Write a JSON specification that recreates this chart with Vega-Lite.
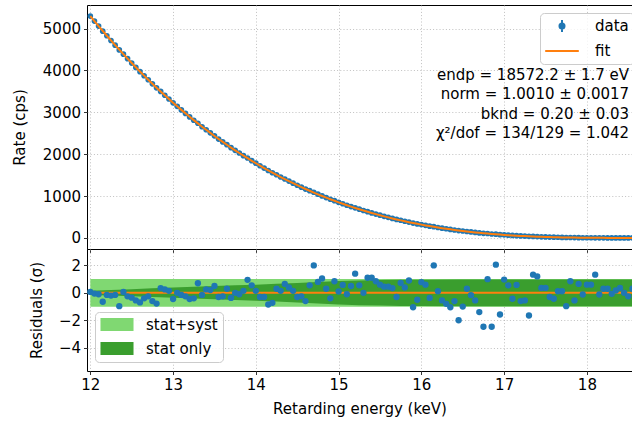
{
 "$schema": "https://vega.github.io/schema/vega-lite/v6.json",
 "padding": {"left": 12, "top": 4, "right": 0, "bottom": 0},
 "background": "white",
 "bounds": "flush",
 "config": {
  "font": "DejaVu Sans",
  "view": {"stroke": "#000", "strokeWidth": 1},
  "axis": {
   "domain": false, "grid": true, "gridColor": "#b0b0b0", "gridDash": [1, 2.2], "gridWidth": 0.8,
   "ticks": true, "tickColor": "#000", "tickSize": 3.5, "tickWidth": 0.8,
   "labelFont": "DejaVu Sans", "labelFontSize": 15, "labelColor": "#000", "labelPadding": 3,
   "titleFont": "DejaVu Sans", "titleFontSize": 15, "titleFontWeight": "normal", "titleColor": "#000"
  },
  "legend": {"labelFont": "DejaVu Sans", "labelFontSize": 15, "labelColor": "#000"}
 },
 "resolve": {"scale": {"color": "independent"}, "legend": {"color": "independent"}},
 "spacing": 0,
 "datasets": {
  "pts": [
   {"E":12.00,"fit":5300,"data":5301,"res":0.07},
   {"E":12.05,"fit":5180,"data":5180,"res":-0.05},
   {"E":12.10,"fit":5062,"data":5061,"res":-0.1},
   {"E":12.15,"fit":4945,"data":4940,"res":-0.65},
   {"E":12.20,"fit":4831,"data":4830,"res":-0.15},
   {"E":12.25,"fit":4718,"data":4716,"res":-0.2},
   {"E":12.30,"fit":4607,"data":4606,"res":-0.15},
   {"E":12.35,"fit":4498,"data":4491,"res":-0.97},
   {"E":12.40,"fit":4390,"data":4391,"res":0.07},
   {"E":12.45,"fit":4284,"data":4282,"res":-0.25},
   {"E":12.50,"fit":4180,"data":4177,"res":-0.35},
   {"E":12.55,"fit":4078,"data":4074,"res":-0.55},
   {"E":12.60,"fit":3977,"data":3972,"res":-0.7},
   {"E":12.65,"fit":3878,"data":3875,"res":-0.4},
   {"E":12.70,"fit":3780,"data":3778,"res":-0.25},
   {"E":12.75,"fit":3685,"data":3681,"res":-0.6},
   {"E":12.80,"fit":3590,"data":3585,"res":-0.78},
   {"E":12.85,"fit":3498,"data":3500,"res":0.35},
   {"E":12.90,"fit":3407,"data":3409,"res":0.25},
   {"E":12.95,"fit":3318,"data":3319,"res":0.15},
   {"E":13.00,"fit":3230,"data":3227,"res":-0.45},
   {"E":13.05,"fit":3144,"data":3144,"res":0.0},
   {"E":13.10,"fit":3059,"data":3058,"res":-0.15},
   {"E":13.15,"fit":2976,"data":2974,"res":-0.25},
   {"E":13.20,"fit":2894,"data":2891,"res":-0.45},
   {"E":13.25,"fit":2814,"data":2811,"res":-0.4},
   {"E":13.30,"fit":2736,"data":2740,"res":0.7},
   {"E":13.35,"fit":2658,"data":2657,"res":-0.15},
   {"E":13.40,"fit":2583,"data":2584,"res":0.25},
   {"E":13.45,"fit":2509,"data":2510,"res":0.2},
   {"E":13.50,"fit":2436,"data":2439,"res":0.5},
   {"E":13.55,"fit":2364,"data":2362,"res":-0.3},
   {"E":13.60,"fit":2294,"data":2293,"res":-0.25},
   {"E":13.65,"fit":2226,"data":2228,"res":0.3},
   {"E":13.70,"fit":2159,"data":2157,"res":-0.37},
   {"E":13.75,"fit":2093,"data":2093,"res":0.0},
   {"E":13.80,"fit":2028,"data":2028,"res":-0.1},
   {"E":13.85,"fit":1965,"data":1966,"res":0.15},
   {"E":13.90,"fit":1904,"data":1909,"res":0.95},
   {"E":13.95,"fit":1843,"data":1846,"res":0.55},
   {"E":14.00,"fit":1784,"data":1785,"res":0.15},
   {"E":14.05,"fit":1726,"data":1725,"res":-0.3},
   {"E":14.10,"fit":1669,"data":1668,"res":-0.3},
   {"E":14.15,"fit":1614,"data":1610,"res":-0.85},
   {"E":14.20,"fit":1560,"data":1557,"res":-0.73},
   {"E":14.25,"fit":1507,"data":1508,"res":0.3},
   {"E":14.30,"fit":1455,"data":1456,"res":0.15},
   {"E":14.35,"fit":1405,"data":1407,"res":0.65},
   {"E":14.40,"fit":1355,"data":1357,"res":0.4},
   {"E":14.45,"fit":1307,"data":1308,"res":0.15},
   {"E":14.50,"fit":1260,"data":1259,"res":-0.3},
   {"E":14.55,"fit":1214,"data":1213,"res":-0.25},
   {"E":14.60,"fit":1169,"data":1167,"res":-0.6},
   {"E":14.65,"fit":1126,"data":1128,"res":0.55},
   {"E":14.70,"fit":1083,"data":1090,"res":2.0},
   {"E":14.75,"fit":1042,"data":1045,"res":0.8},
   {"E":14.80,"fit":1001,"data":1004,"res":1.05},
   {"E":14.85,"fit":962,"data":963,"res":0.3},
   {"E":14.90,"fit":924,"data":923,"res":-0.4},
   {"E":14.95,"fit":887,"data":890,"res":0.85},
   {"E":15.00,"fit":850,"data":850,"res":0.1},
   {"E":15.05,"fit":815,"data":817,"res":0.58},
   {"E":15.10,"fit":781,"data":781,"res":-0.1},
   {"E":15.15,"fit":748,"data":749,"res":0.5},
   {"E":15.20,"fit":715,"data":719,"res":1.4},
   {"E":15.25,"fit":684,"data":686,"res":0.55},
   {"E":15.30,"fit":654,"data":654,"res":0.0},
   {"E":15.35,"fit":624,"data":627,"res":1.1},
   {"E":15.40,"fit":595,"data":598,"res":1.1},
   {"E":15.45,"fit":568,"data":570,"res":0.85},
   {"E":15.50,"fit":541,"data":543,"res":0.6},
   {"E":15.55,"fit":515,"data":516,"res":0.45},
   {"E":15.60,"fit":490,"data":491,"res":0.45},
   {"E":15.65,"fit":465,"data":466,"res":0.35},
   {"E":15.70,"fit":442,"data":441,"res":-0.3},
   {"E":15.75,"fit":419,"data":421,"res":0.72},
   {"E":15.80,"fit":397,"data":398,"res":0.4},
   {"E":15.85,"fit":376,"data":378,"res":0.9},
   {"E":15.90,"fit":356,"data":354,"res":-1.05},
   {"E":15.95,"fit":336,"data":335,"res":-0.5},
   {"E":16.00,"fit":317,"data":319,"res":0.78},
   {"E":16.05,"fit":299,"data":300,"res":0.6},
   {"E":16.10,"fit":282,"data":281,"res":-0.37},
   {"E":16.15,"fit":265,"data":269,"res":2.0},
   {"E":16.20,"fit":249,"data":249,"res":0.12},
   {"E":16.25,"fit":233,"data":232,"res":-0.55},
   {"E":16.30,"fit":219,"data":218,"res":-0.8},
   {"E":16.35,"fit":205,"data":203,"res":-1.05},
   {"E":16.40,"fit":191,"data":190,"res":-0.6},
   {"E":16.45,"fit":178,"data":175,"res":-2.0},
   {"E":16.50,"fit":166,"data":165,"res":-1.0},
   {"E":16.55,"fit":154,"data":154,"res":0.3},
   {"E":16.60,"fit":143,"data":143,"res":-0.17},
   {"E":16.65,"fit":132,"data":131,"res":-0.55},
   {"E":16.70,"fit":122,"data":120,"res":-1.4},
   {"E":16.75,"fit":113,"data":110,"res":-2.47},
   {"E":16.80,"fit":104,"data":105,"res":1.0},
   {"E":16.85,"fit":95,"data":93,"res":-2.47},
   {"E":16.90,"fit":87,"data":89,"res":2.06},
   {"E":16.95,"fit":79,"data":78,"res":-1.58},
   {"E":17.00,"fit":72,"data":73,"res":0.97},
   {"E":17.05,"fit":66,"data":66,"res":0.55},
   {"E":17.10,"fit":59,"data":59,"res":-0.43},
   {"E":17.15,"fit":54,"data":54,"res":0.58},
   {"E":17.20,"fit":48,"data":48,"res":-0.6},
   {"E":17.25,"fit":43,"data":43,"res":-0.55},
   {"E":17.30,"fit":38,"data":37,"res":-1.65},
   {"E":17.35,"fit":34,"data":35,"res":1.33},
   {"E":17.40,"fit":30,"data":31,"res":1.2},
   {"E":17.45,"fit":26,"data":26,"res":0.36},
   {"E":17.50,"fit":23,"data":23,"res":0.36},
   {"E":17.55,"fit":20,"data":20,"res":-0.3},
   {"E":17.60,"fit":17,"data":17,"res":-0.43},
   {"E":17.65,"fit":15,"data":15,"res":0.12},
   {"E":17.70,"fit":12,"data":12,"res":0.12},
   {"E":17.75,"fit":10,"data":10,"res":-0.97},
   {"E":17.80,"fit":8.7,"data":9,"res":0.85},
   {"E":17.85,"fit":7.2,"data":7,"res":-0.55},
   {"E":17.90,"fit":5.8,"data":6,"res":0.65},
   {"E":17.95,"fit":4.7,"data":4.7,"res":-0.12},
   {"E":18.00,"fit":3.7,"data":3.9,"res":0.6},
   {"E":18.05,"fit":2.8,"data":2.9,"res":0.6},
   {"E":18.10,"fit":2.1,"data":2.4,"res":1.33},
   {"E":18.15,"fit":1.6,"data":1.6,"res":-0.12},
   {"E":18.20,"fit":1.1,"data":1.2,"res":0.3},
   {"E":18.25,"fit":0.8,"data":0.8,"res":0.3},
   {"E":18.30,"fit":0.6,"data":0.6,"res":-0.07},
   {"E":18.35,"fit":0.4,"data":0.4,"res":0.17},
   {"E":18.40,"fit":0.3,"data":0.3,"res":0.36},
   {"E":18.45,"fit":0.2,"data":0.2,"res":0.0},
   {"E":18.50,"fit":0.2,"data":0.2,"res":-0.25},
   {"E":18.55,"fit":0.2,"data":0.3,"res":0.3}
  ],
  "band": [
   {"E":12.0,"lo":-1.02,"hi":1.02,"band":"stat+syst"},
   {"E":18.55,"lo":-1.02,"hi":1.02,"band":"stat+syst"},
   {"E":12.0,"lo":-0.15,"hi":0.15,"band":"stat only"},
   {"E":12.25,"lo":-0.2,"hi":0.2,"band":"stat only"},
   {"E":12.5,"lo":-0.25,"hi":0.27,"band":"stat only"},
   {"E":12.75,"lo":-0.3,"hi":0.33,"band":"stat only"},
   {"E":13.0,"lo":-0.36,"hi":0.4,"band":"stat only"},
   {"E":13.25,"lo":-0.42,"hi":0.45,"band":"stat only"},
   {"E":13.5,"lo":-0.47,"hi":0.5,"band":"stat only"},
   {"E":13.75,"lo":-0.52,"hi":0.55,"band":"stat only"},
   {"E":14.0,"lo":-0.58,"hi":0.6,"band":"stat only"},
   {"E":14.25,"lo":-0.63,"hi":0.66,"band":"stat only"},
   {"E":14.5,"lo":-0.7,"hi":0.72,"band":"stat only"},
   {"E":14.75,"lo":-0.78,"hi":0.8,"band":"stat only"},
   {"E":15.0,"lo":-0.85,"hi":0.86,"band":"stat only"},
   {"E":15.25,"lo":-0.9,"hi":0.9,"band":"stat only"},
   {"E":15.5,"lo":-0.93,"hi":0.93,"band":"stat only"},
   {"E":15.75,"lo":-0.95,"hi":0.95,"band":"stat only"},
   {"E":16.0,"lo":-0.96,"hi":0.96,"band":"stat only"},
   {"E":16.5,"lo":-0.97,"hi":0.97,"band":"stat only"},
   {"E":17.0,"lo":-0.97,"hi":0.97,"band":"stat only"},
   {"E":18.55,"lo":-0.97,"hi":0.97,"band":"stat only"}
  ]
 },
 "vconcat": [
  {
   "width": 545, "height": 244,
   "layer": [
    {
     "data": {"name": "pts"},
     "mark": {"type": "circle", "size": 32, "opacity": 1},
     "encoding": {
      "x": {"field": "E", "type": "quantitative", "scale": {"domain": [11.96, 18.545], "nice": false, "zero": false}, "axis": {"values": [12,13,14,15,16,17,18], "labels": false, "title": null}},
      "y": {"field": "data", "type": "quantitative", "scale": {"domain": [-265, 5565], "nice": false, "zero": false}, "axis": {"values": [0,1000,2000,3000,4000,5000], "format": "d", "title": "Rate (cps)", "titleX": -62.5, "titleBaseline": "alphabetic"}},
      "color": {"datum": "data", "scale": {"domain": ["data", "fit"], "range": ["#1f77b4", "#ff7f0e"]},
       "legend": {"title": null, "orient": "none", "legendX": 453, "legendY": 8, "symbolSize": 196, "symbolOffset": 9, "labelOffset": 25, "rowPadding": 6, "padding": 5,
        "fillColor": "rgba(255,255,255,0.8)", "strokeColor": "#cccccc", "cornerRadius": 4, "labelFontSize": 15,
        "encoding": {"symbols": {
          "shape": {"value": {"expr": "datum.value === 'data' ? 'M0,-0.86V0.86M-0.36,0A0.36,0.36 0 1,0 0.36,0A0.36,0.36 0 1,0 -0.36,0' : 'M-2.4,0H2.4'"}},
          "fill": {"value": {"expr": "datum.value === 'data' ? '#1f77b4' : 'transparent'"}},
          "stroke": {"value": {"expr": "datum.value === 'data' ? '#1f77b4' : '#ff7f0e'"}},
          "strokeWidth": {"value": 2},
          "opacity": {"value": 1}
        }}
       }}
     }
    },
    {
     "data": {"name": "pts"},
     "mark": {"type": "line", "strokeWidth": 2},
     "encoding": {
      "x": {"field": "E", "type": "quantitative"},
      "y": {"field": "fit", "type": "quantitative"},
      "color": {"datum": "fit"}
     }
    },
    {
     "data": {"values": [{}]},
     "mark": {"type": "text", "align": "right", "baseline": "alphabetic", "fontSize": 15, "lineHeight": 19.3, "color": "#000",
      "text": ["endp = 18572.2 ± 1.7 eV", "norm = 1.0010 ± 0.0017", "bknd = 0.20 ± 0.03", "χ²/dof = 134/129 = 1.042"]},
     "encoding": {"x": {"datum": 18.51}, "y": {"datum": 3773}}
    }
   ]
  },
  {
   "width": 545, "height": 122,
   "layer": [
    {
     "data": {"name": "band"},
     "transform": [{"filter": "datum.band === 'stat+syst'"}],
     "mark": {"type": "area", "opacity": 1},
     "encoding": {
      "x": {"field": "E", "type": "quantitative", "scale": {"domain": [11.96, 18.545], "nice": false, "zero": false}, "axis": {"values": [12,13,14,15,16,17,18], "format": "d", "title": "Retarding energy (keV)", "titlePadding": 9, "labelFlush": false}},
      "y": {"field": "lo", "type": "quantitative", "scale": {"domain": [-5.7, 3.2], "nice": false, "zero": false}, "axis": {"values": [-4,-2,0,2], "format": "d", "title": "Residuals (σ)", "titleX": -45.3, "titleBaseline": "alphabetic"}},
      "y2": {"field": "hi"},
      "color": {"field": "band", "type": "nominal", "scale": {"domain": ["stat+syst", "stat only"], "range": ["#80d872", "#3a9e2e"]},
       "legend": {"title": null, "orient": "none", "legendX": 8, "legendY": 63, "symbolType": "M-2.36,-0.93H2.36V0.93H-2.36Z", "symbolSize": 196, "symbolStrokeWidth": 0, "symbolOpacity": 1, "symbolOffset": 9.5, "labelOffset": 21.5, "rowPadding": 8, "padding": 5,
        "fillColor": "rgba(255,255,255,0.8)", "strokeColor": "#cccccc", "cornerRadius": 4, "labelFontSize": 15}}
     }
    },
    {
     "data": {"name": "band"},
     "transform": [{"filter": "datum.band === 'stat only'"}],
     "mark": {"type": "area", "opacity": 1},
     "encoding": {
      "x": {"field": "E", "type": "quantitative"},
      "y": {"field": "lo", "type": "quantitative"},
      "y2": {"field": "hi"},
      "color": {"field": "band", "type": "nominal"}
     }
    },
    {
     "data": {"values": [{}]},
     "mark": {"type": "rule", "color": "#ff7f0e", "strokeWidth": 2},
     "encoding": {"x": {"datum": 12.0}, "x2": {"datum": 18.545}, "y": {"datum": 0}}
    },
    {
     "data": {"name": "pts"},
     "mark": {"type": "circle", "size": 40, "opacity": 1, "color": "#1f77b4"},
     "encoding": {
      "x": {"field": "E", "type": "quantitative"},
      "y": {"field": "res", "type": "quantitative"}
     }
    }
   ]
  }
 ]
}
